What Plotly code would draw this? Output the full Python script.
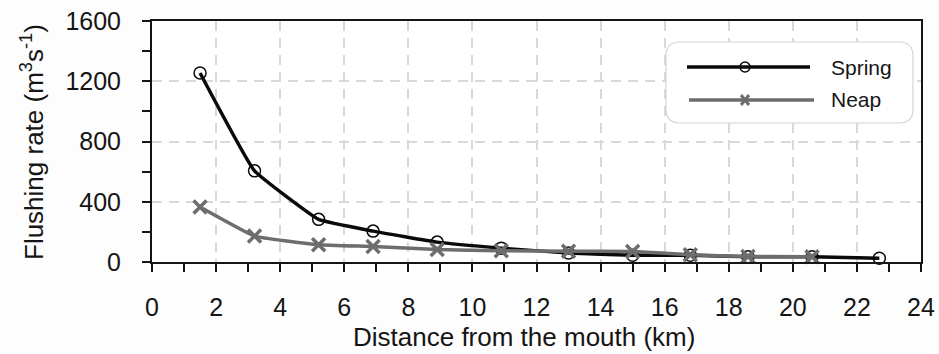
import plotly.graph_objects as go

# ---- data ----
distance_km = [1.5, 3.2, 5.2, 6.9, 8.9, 10.9, 13.0, 15.0, 16.8, 18.6, 20.6, 22.7]
spring = [1255, 605, 283, 205, 132, 92, 60, 45, 45, 35, 35, 25]
neap_distance_km = [1.5, 3.2, 5.2, 6.9, 8.9, 10.9, 13.0, 15.0, 16.8, 18.6, 20.6]
neap = [365, 172, 115, 103, 83, 75, 72, 70, 48, 37, 35]
series_names = ["Spring", "Neap"]
x_title = "Distance from the mouth (km)"
y_title = "Flushing rate (m<sup>3</sup>s<sup>-1</sup>)"

FONT = "Liberation Sans, Arial, sans-serif"
AX = "#151515"
SPRING_C = "#0a0a0a"
NEAP_C = "#6d6d6d"

W, H = 939, 354
ML, MR, MT, MB = 152, 18, 21, 92
PW, PH = W - ML - MR, H - MT - MB


def px(xp):
    return (xp - ML) / PW


def py(yp):
    return (H - MB - yp) / PH


fig = go.Figure()
fig.add_trace(go.Scatter(
    x=distance_km, y=spring, name=series_names[0], mode="lines+markers",
    line=dict(color=SPRING_C, width=3.5, shape="spline", smoothing=0.3),
    marker=dict(symbol="circle-open", size=12, color=SPRING_C, line=dict(width=1.5)),
    showlegend=False, cliponaxis=False,
))
fig.add_trace(go.Scatter(
    x=neap_distance_km, y=neap, name=series_names[1], mode="lines+markers",
    line=dict(color=NEAP_C, width=3.5, shape="spline", smoothing=0.3),
    marker=dict(symbol="x-thin-open", size=13, color=NEAP_C, line=dict(width=3.5, color=NEAP_C)),
    showlegend=False, cliponaxis=False,
))

grid = dict(showgrid=True, gridcolor="#d9d9d9", gridwidth=1.5, griddash="10px,7px")

fig.update_xaxes(
    range=[0, 24], dtick=2, tick0=0, ticks="outside", ticklen=8, tickwidth=1.5, tickcolor=AX,
    showline=True, linecolor=AX, linewidth=2, mirror=True, zeroline=False,
    minor=dict(dtick=1, ticks="outside", ticklen=8, tickwidth=1.5, tickcolor=AX, showgrid=False),
    tickfont=dict(family=FONT, size=25, color=AX), ticklabelstandoff=14, **grid,
)
fig.update_yaxes(
    range=[0, 1600], dtick=400, tick0=0, ticks="outside", ticklen=8, tickwidth=1.5, tickcolor=AX,
    showline=True, linecolor=AX, linewidth=2, mirror=True, zeroline=False,
    minor=dict(dtick=200, ticks="outside", ticklen=8, tickwidth=1.5, tickcolor=AX, showgrid=False),
    tickfont=dict(family=FONT, size=25, color=AX), ticklabelstandoff=16, **grid,
)

# ---- manual legend (rounded box) ----
x0, x1 = px(666), px(913)
y1, y0 = py(42), py(123)
rx, ry = 14 / PW, 14 / PH
path = (f"M {x0+rx},{y1} L {x1-rx},{y1} Q {x1},{y1} {x1},{y1-ry} L {x1},{y0+ry} "
        f"Q {x1},{y0} {x1-rx},{y0} L {x0+rx},{y0} Q {x0},{y0} {x0},{y0+ry} "
        f"L {x0},{y1-ry} Q {x0},{y1} {x0+rx},{y1} Z")
shapes = [dict(type="path", path=path, xref="paper", yref="paper",
               line=dict(color="#d4d4d4", width=1.2), fillcolor="white", layer="above")]
ly_s, ly_n = py(67), py(100)
mx = px(745)
shapes.append(dict(type="line", xref="paper", yref="paper", x0=px(687), x1=px(810), y0=ly_s, y1=ly_s,
                   line=dict(color=SPRING_C, width=3.5), layer="above"))
shapes.append(dict(type="circle", xref="paper", yref="paper", xsizemode="pixel", ysizemode="pixel",
                   xanchor=mx, yanchor=ly_s, x0=-5, x1=5, y0=-5, y1=5,
                   line=dict(color=SPRING_C, width=1.5), fillcolor="rgba(0,0,0,0)", layer="above"))
shapes.append(dict(type="line", xref="paper", yref="paper", x0=px(689), x1=px(814), y0=ly_n, y1=ly_n,
                   line=dict(color=NEAP_C, width=3.5), layer="above"))
for sgn in (1, -1):
    shapes.append(dict(type="line", xref="paper", yref="paper", xsizemode="pixel", ysizemode="pixel",
                       xanchor=mx, yanchor=ly_n, x0=-4, x1=4, y0=-5 * sgn, y1=5 * sgn,
                       line=dict(color=NEAP_C, width=3), layer="above"))

annotations = [
    dict(text=series_names[0], x=px(829), y=ly_s, xref="paper", yref="paper", xanchor="left",
         yanchor="middle", showarrow=False, font=dict(family=FONT, size=21, color=AX)),
    dict(text=series_names[1], x=px(829), y=ly_n, xref="paper", yref="paper", xanchor="left",
         yanchor="middle", showarrow=False, font=dict(family=FONT, size=21, color=AX)),
    dict(text=x_title, x=px(524), y=py(337), xref="paper", yref="paper", xanchor="center",
         yanchor="middle", showarrow=False, font=dict(family=FONT, size=26, color=AX)),
    dict(text=y_title, x=px(32), y=py(142), xref="paper", yref="paper", xanchor="center",
         yanchor="middle", showarrow=False, textangle=-90, font=dict(family=FONT, size=26, color=AX)),
]

fig.update_layout(
    width=W, height=H, margin=dict(l=ML, r=MR, t=MT, b=MB, autoexpand=False),
    paper_bgcolor="#fdfdfd", plot_bgcolor="white", showlegend=False,
    shapes=shapes, annotations=annotations, font=dict(family=FONT, color=AX),
)

fig.write_html("out.html")
